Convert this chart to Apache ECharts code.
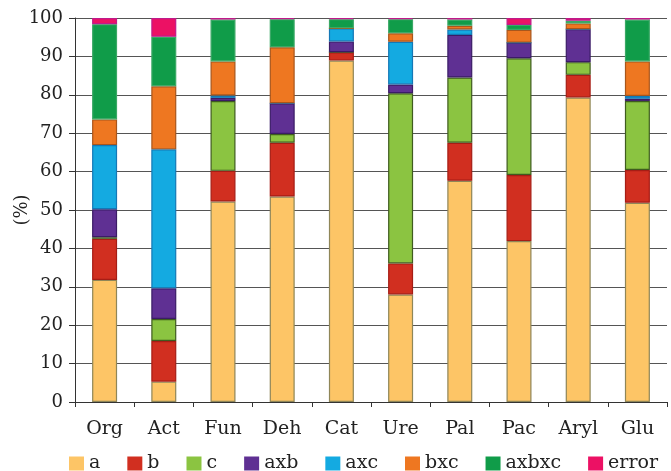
<!DOCTYPE html>
<html>
<head>
<meta charset="utf-8">
<script src="https://cdn.jsdelivr.net/npm/echarts@6/dist/echarts.min.js"></script>
<style>
  html, body { margin: 0; padding: 0; background: #fff; }
  #chart { width: 671px; height: 471px; }
</style>
</head>
<body>
<div id="chart"></div>
<script>
// Sites along the x axis
const categories = ['Org', 'Act', 'Fun', 'Deh', 'Cat', 'Ure', 'Pal', 'Pac', 'Aryl', 'Glu'];

// Share of variance (%) per component, one value per site
const a      = [31.8,  5.3, 52.2, 53.5, 88.9, 28.0, 57.6, 41.9, 79.3, 51.9];
const b      = [10.7, 10.6,  8.0, 14.0,  2.2,  8.1,  9.9, 17.2,  5.9,  8.5];
const c      = [ 0.4,  5.7, 18.2,  2.3,  0.0, 44.3, 17.0, 30.4,  3.3, 18.0];
const axb    = [ 7.3,  8.0,  0.8,  8.0,  2.8,  2.3, 11.1,  4.1,  8.6,  0.6];
const axc    = [16.7, 36.2,  0.6,  0.0,  3.4, 11.1,  1.4,  0.0,  0.0,  0.7];
const bxc    = [ 6.7, 16.4,  8.9, 14.6,  0.0,  2.2,  1.0,  3.3,  1.5,  9.0];
const axbxc  = [24.8, 12.9, 10.9,  7.3,  2.4,  3.7,  1.6,  1.3,  0.7, 10.9];
const error  = [ 1.6,  4.9,  0.4,  0.3,  0.3,  0.3,  0.4,  1.8,  0.7,  0.4];

const yTicks = [0, 10, 20, 30, 40, 50, 60, 70, 80, 90, 100];

const seriesDefs = [
  { name: 'a',     data: a,     color: '#FDC566', border: '#8f8658' },
  { name: 'b',     data: b,     color: '#D12F20', border: '#a61d15' },
  { name: 'c',     data: c,     color: '#8BC441', border: '#3f5c1f' },
  { name: 'axb',   data: axb,   color: '#5F3093', border: '#3b1c66' },
  { name: 'axc',   data: axc,   color: '#14AAE1', border: '#1478b6' },
  { name: 'bxc',   data: bxc,   color: '#EE7721', border: '#a8561c' },
  { name: 'axbxc', data: axbxc, color: '#109C49', border: '#3aa865' },
  { name: 'error', data: error, color: '#EC1164', border: '#c01a8a' }
];

const font = 'DejaVu Serif';

const chart = echarts.init(document.getElementById('chart'), null, { renderer: 'canvas' });

chart.setOption({
  animation: false,
  backgroundColor: '#ffffff',
  textStyle: { fontFamily: font, color: '#222' },
  grid: { left: 75, right: 4, top: 18, bottom: 69, containLabel: false },
  legend: {
    left: 64,
    top: 449,
    width: 660,
    itemWidth: 15,
    itemHeight: 14,
    itemGap: 27,
    icon: 'rect',
    textStyle: { fontFamily: font, fontSize: 19, color: '#222' },
    data: seriesDefs.map(s => ({ name: s.name, itemStyle: { color: s.color, borderWidth: 0 } }))
  },
  xAxis: {
    type: 'category',
    data: categories,
    boundaryGap: true,
    axisLine: { lineStyle: { color: '#333', width: 1 } },
    axisTick: { show: true, alignWithLabel: false, length: 5, lineStyle: { color: '#333' } },
    axisLabel: { fontFamily: font, fontSize: 19, color: '#222', margin: 18 }
  },
  yAxis: {
    type: 'value',
    min: yTicks[0],
    max: yTicks[yTicks.length - 1],
    interval: 10,
    name: '(%)',
    nameLocation: 'middle',
    nameGap: 44,
    nameRotate: 90,
    nameMoveOverlap: false,
    nameTextStyle: { fontFamily: font, fontSize: 18, color: '#222' },
    axisLine: { show: true, lineStyle: { color: '#333', width: 1 } },
    axisTick: { show: true, length: 6, lineStyle: { color: '#333' } },
    axisLabel: { fontFamily: font, fontSize: 18, color: '#222', margin: 12 },
    splitLine: { show: true, lineStyle: { color: '#555', width: 1 } }
  },
  series: seriesDefs.map(s => ({
    name: s.name,
    type: 'bar',
    stack: 'total',
    barWidth: 25,
    data: s.data,
    itemStyle: { color: s.color, borderColor: s.border, borderWidth: 1.2 }
  }))
});
</script>
</body>
</html>
